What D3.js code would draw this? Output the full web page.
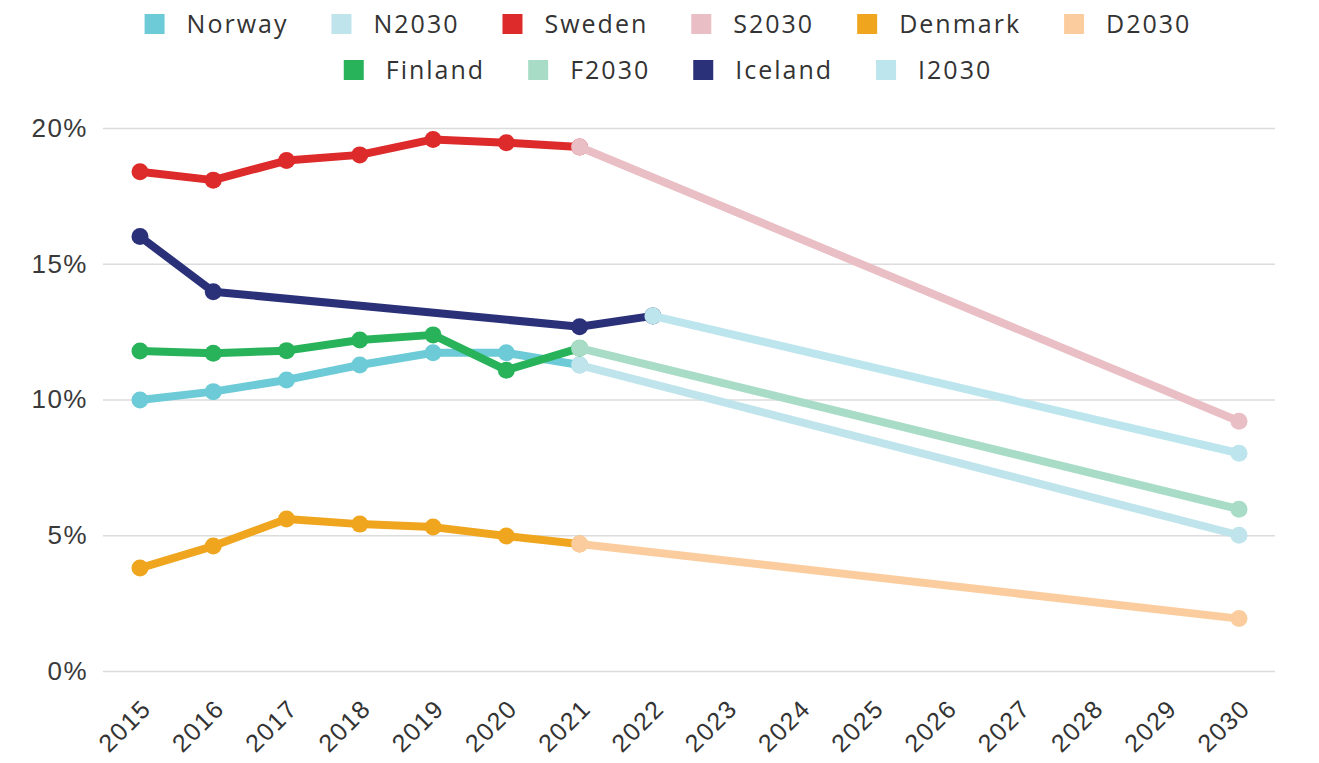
<!DOCTYPE html>
<html>
<head>
<meta charset="utf-8">
<script src="https://cdn.jsdelivr.net/npm/d3@7"></script>
<style>
  html, body { margin: 0; padding: 0; background: #fff; }
  svg { display: block; font-family: "Open Sans", sans-serif; }
</style>
</head>
<body>
<svg id="chart" width="1319" height="763"></svg>
<script>
const years = [2015, 2016, 2017, 2018, 2019, 2020, 2021, 2022, 2023, 2024, 2025, 2026, 2027, 2028, 2029, 2030];
const yTicks = [0, 5, 10, 15, 20];

const norway  = [[2015, 9.98], [2016, 10.29], [2017, 10.72], [2018, 11.27], [2019, 11.72], [2020, 11.72], [2021, 11.27]];
const n2030   = [[2021, 11.27], [2030, 5.0]];
const sweden  = [[2015, 18.39], [2016, 18.08], [2017, 18.80], [2018, 19.01], [2019, 19.58], [2020, 19.46], [2021, 19.3]];
const s2030   = [[2021, 19.3], [2030, 9.2]];
const denmark = [[2015, 3.79], [2016, 4.6], [2017, 5.6], [2018, 5.41], [2019, 5.3], [2020, 4.97], [2021, 4.68]];
const d2030   = [[2021, 4.68], [2030, 1.93]];
const finland = [[2015, 11.79], [2016, 11.7], [2017, 11.8], [2018, 12.19], [2019, 12.38], [2020, 11.08], [2021, 11.89]];
const f2030   = [[2021, 11.89], [2030, 5.96]];
const iceland = [[2015, 16.0], [2016, 13.97], [2021, 12.68], [2022, 13.08]];
const i2030   = [[2022, 13.08], [2030, 8.02]];

const seriesNames  = ["Norway", "N2030", "Sweden", "S2030", "Denmark", "D2030", "Finland", "F2030", "Iceland", "I2030"];
const seriesValues = [norway, n2030, sweden, s2030, denmark, d2030, finland, f2030, iceland, i2030];
const seriesColors = ["#6ccbd7", "#bfe4eb", "#dd2a2a", "#e9bec4", "#f0a51e", "#fbcd9e", "#28b35b", "#a9dcc7", "#2b3179", "#bde5ed"];

const svg = d3.select("#chart");

const x = d3.scaleLinear().domain([2015, 2030]).range([140, 1239]);
const y = d3.scaleLinear().domain([0, 20]).range([671, 128]);

// gridlines + y labels
const yAxis = d3.axisLeft(y).tickValues(yTicks).tickSize(-(1275 - 103)).tickFormat(d => d + "%").tickPadding(15);
const gy = svg.append("g").attr("transform", "translate(103,0)").call(yAxis);
gy.select(".domain").remove();
gy.selectAll(".tick line").attr("stroke", "#dcdcdc").attr("stroke-width", 1.5);
gy.selectAll(".tick text").attr("fill", "#3a3a3a").style("font-size", "26px").style("letter-spacing", "1.5px");

// x labels
const xAxis = d3.axisBottom(x).tickValues(years).tickSize(0).tickFormat(d3.format("d"));
const gx = svg.append("g").attr("transform", "translate(0,671)").call(xAxis);
gx.select(".domain").remove();
gx.selectAll(".tick text")
  .attr("fill", "#333")
  .style("font-size", "25px")
  .style("letter-spacing", "1.5px")
  .attr("text-anchor", "end")
  .attr("y", 0)
  .attr("dy", "0.35em")
  .attr("transform", "translate(6,33) rotate(-45)");

// lines
const line = d3.line().x(d => x(d[0])).y(d => y(d[1]));
seriesValues.forEach((vals, i) => {
  const g = svg.append("g");
  g.append("path").datum(vals)
    .attr("d", line)
    .attr("fill", "none")
    .attr("stroke", seriesColors[i])
    .attr("stroke-width", 8)
    .attr("stroke-linejoin", "round")
    .attr("stroke-linecap", "round");
  g.selectAll("circle").data(vals).join("circle")
    .attr("cx", d => x(d[0]))
    .attr("cy", d => y(d[1]))
    .attr("r", 8.5)
    .attr("fill", seriesColors[i]);
});

// legend
const rows = [[0, 1, 2, 3, 4, 5], [6, 7, 8, 9]];
const rowY = [24, 70];
const sq = 20, gapText = 22, gapItem = 43, centerX = 668;
rows.forEach((idxs, r) => {
  const g = svg.append("g");
  let cx = 0;
  idxs.forEach(i => {
    const item = g.append("g").attr("transform", `translate(${cx},0)`);
    item.append("rect").attr("x", 0).attr("y", rowY[r] - sq / 2).attr("width", sq).attr("height", sq).attr("fill", seriesColors[i]);
    const t = item.append("text").attr("x", sq + gapText).attr("y", rowY[r]).attr("dy", "0.35em")
      .attr("fill", "#333").style("font-size", "25px").style("letter-spacing", "2px").text(seriesNames[i]);
    cx += sq + gapText + t.node().getComputedTextLength() + gapItem;
  });
  const total = cx - gapItem;
  g.attr("transform", `translate(${centerX - total / 2},0)`);
});
</script>
</body>
</html>
